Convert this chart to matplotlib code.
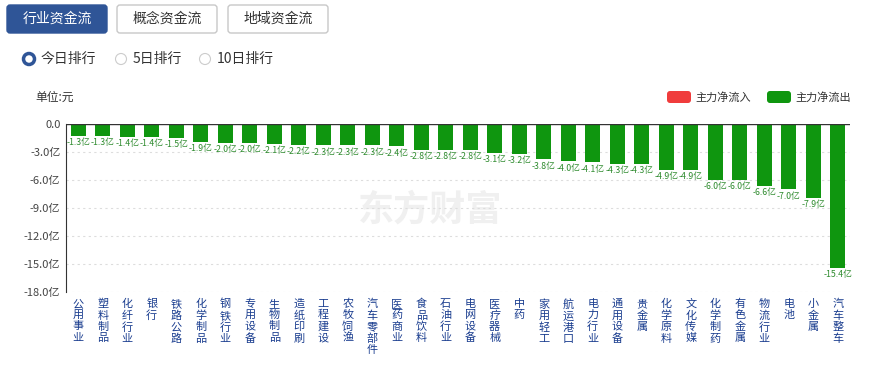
import matplotlib.pyplot as plt
from matplotlib.patches import FancyBboxPatch, Circle

plt.rcParams['font.family'] = ['Noto Sans CJK SC', 'DejaVu Sans']

industries = ['公用事业', '塑料制品', '化纤行业', '银行', '铁路公路', '化学制品', '钢铁行业', '专用设备',
              '生物制品', '造纸印刷', '工程建设', '农牧饲渔', '汽车零部件', '医药商业', '食品饮料', '石油行业',
              '电网设备', '医疗器械', '中药', '家用轻工', '航运港口', '电力行业', '通用设备', '贵金属',
              '化学原料', '文化传媒', '化学制药', '有色金属', '物流行业', '电池', '小金属', '汽车整车']
net_flow = [-1.3, -1.3, -1.4, -1.4, -1.5, -1.9, -2.0, -2.0, -2.1, -2.2, -2.3, -2.3, -2.3, -2.4, -2.8, -2.8,
            -2.8, -3.1, -3.2, -3.8, -4.0, -4.1, -4.3, -4.3, -4.9, -4.9, -6.0, -6.0, -6.6, -7.0, -7.9, -15.4]
yticks = [0, -3, -6, -9, -12, -15, -18]
tabs = ['行业资金流', '概念资金流', '地域资金流']
ranks = ['今日排行', '5日排行', '10日排行']

W, H = 872, 370
fig = plt.figure(figsize=(W / 100, H / 100), dpi=100)

green = '#0f960f'
red = '#f03c3c'
blue = '#2f5597'

# overlay in pixel coordinates for the page controls
bg = fig.add_axes([0, 0, 1, 1], zorder=0)
bg.set_xlim(0, W)
bg.set_ylim(H, 0)
bg.axis('off')

ax = fig.add_axes([66 / W, 1 - 292 / H, (850 - 66) / W, (292 - 124) / H], zorder=1)
ax.patch.set_alpha(0)
x = list(range(len(industries)))
ax.bar(x, net_flow, width=0.62, color=green, zorder=3)
for xi, v in zip(x, net_flow):
    ax.text(xi, v - 0.25, f'{v:.1f}亿', ha='center', va='top', fontsize=6.3, color='#2e8b2e', zorder=4)
ax.set_xlim(-0.5, len(industries) - 0.5)
ax.set_ylim(-18, 0)
ax.set_yticks(yticks)
ax.set_yticklabels(['0.0'] + [f'{v:.1f}亿' for v in yticks[1:]], fontsize=8, color='#444444')
ax.set_xticks(x)
ax.set_xticklabels(['\n'.join(s) for s in industries], fontsize=8, color='#1a3d8f', linespacing=1.15,
                   va='top')
ax.tick_params(axis='both', length=0, pad=4)
ax.tick_params(axis='x', pad=5)
ax.grid(axis='y', linestyle=(0, (2, 3)), color='#dddddd', linewidth=0.8, zorder=0)
ax.axhline(0, color='#333333', linewidth=1, zorder=5)
for s in ['top', 'right', 'bottom']:
    ax.spines[s].set_visible(False)
ax.spines['left'].set_color('#333333')

# watermark
bg.text(430, 210, '东方财富', fontsize=26, fontweight='bold', color='#f0f0f0',
        ha='center', va='center')

# tab buttons
for i, (tx, label) in enumerate(zip([7, 117, 228], tabs)):
    active = i == 0
    bg.add_patch(FancyBboxPatch((tx, 5), 100, 28, boxstyle='round,pad=0,rounding_size=3',
                                facecolor=blue if active else 'white',
                                edgecolor=blue if active else '#c8c8c8', linewidth=1))
    bg.text(tx + 50, 19, label, fontsize=10, ha='center', va='center',
            color='white' if active else '#333333')

# radio buttons
for i, (rx, label) in enumerate(zip([29, 121, 205], ranks)):
    bg.add_patch(Circle((rx, 59), 5.5, facecolor='white',
                        edgecolor=blue if i == 0 else '#cccccc', linewidth=2.5 if i == 0 else 0.8))
    bg.text(rx + 12, 59, label, fontsize=10, ha='left', va='center', color='#333333')

bg.text(35, 97, '单位:元', fontsize=8.5, ha='left', va='center', color='#333333')

# legend
for lx, col, label in [(667, red, '主力净流入'), (767, green, '主力净流出')]:
    bg.add_patch(FancyBboxPatch((lx, 91), 24, 12, boxstyle='round,pad=0,rounding_size=3',
                                facecolor=col, edgecolor='none'))
    bg.text(lx + 28, 97, label, fontsize=8, ha='left', va='center', color='#333333')

fig.savefig('out.png', dpi=100)
